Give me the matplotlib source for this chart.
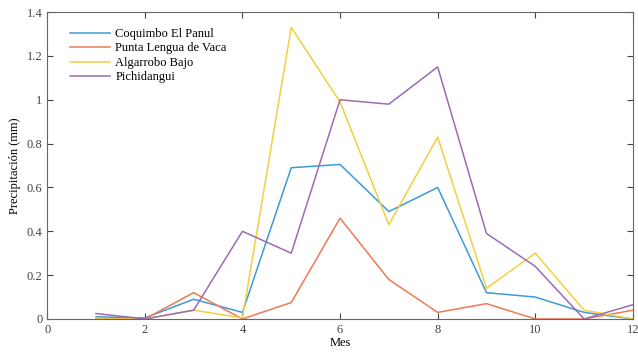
import matplotlib.pyplot as plt

plt.rcParams['font.family'] = ['Liberation Serif', 'DejaVu Serif']

mes = [1, 2, 3, 4, 5, 6, 7, 8, 9, 10, 11, 12]
coquimbo = [0.01, 0.005, 0.09, 0.03, 0.69, 0.705, 0.49, 0.60, 0.12, 0.10, 0.03, 0.0]
punta_lengua = [0.0, 0.0, 0.12, 0.0, 0.075, 0.46, 0.18, 0.03, 0.07, 0.0, 0.0, 0.04]
algarrobo = [0.0, 0.0, 0.04, 0.005, 1.33, 0.99, 0.43, 0.83, 0.14, 0.30, 0.04, 0.0]
pichidangui = [0.025, 0.0, 0.04, 0.40, 0.30, 1.0, 0.98, 1.15, 0.39, 0.24, 0.0, 0.065]

names = ['Coquimbo El Panul', 'Punta Lengua de Vaca', 'Algarrobo Bajo', 'Pichidangui']
colors = ['#3d9ad8', '#ee7a55', '#f2cf3e', '#9b6cb2']

fig = plt.figure(figsize=(6.38, 3.56), dpi=100)
ax = fig.add_axes([0.074, 0.104, 0.918, 0.862])

for s, name, c in zip([coquimbo, punta_lengua, algarrobo, pichidangui], names, colors):
    ax.plot(mes, s, color=c, lw=1.1, label=name)

ax.set_xlim(0, 12)
ax.set_ylim(0, 1.4)
ax.set_xticks([0, 2, 4, 6, 8, 10, 12])
ax.set_yticks([0, 0.2, 0.4, 0.6, 0.8, 1.0, 1.2, 1.4])
ax.set_yticklabels(['0', '0.2', '0.4', '0.6', '0.8', '1', '1.2', '1.4'])
ax.tick_params(direction='in', top=True, right=True, labelsize=9, colors='#444444', length=4)
for sp in ax.spines.values():
    sp.set_color('#666666')
    sp.set_linewidth(0.8)

ax.set_xlabel('Mes', fontsize=9, labelpad=1)
ax.set_ylabel('Precipitación (mm)', fontsize=9, labelpad=4)

ax.legend(loc='upper left', frameon=False, fontsize=9, handlelength=3.2,
          handletextpad=0.4, labelspacing=0.2, bbox_to_anchor=(0.02, 0.985))

fig.savefig('out.png')
